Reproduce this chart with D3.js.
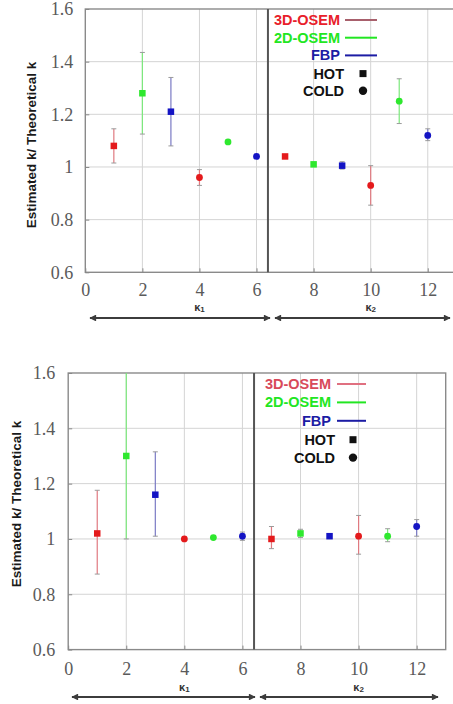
<!DOCTYPE html>
<html>
<head>
<meta charset="utf-8">
<script src="https://cdn.jsdelivr.net/npm/d3@7"></script>
<style>
  html, body { margin: 0; padding: 0; background: #fff; }
  svg { display: block; }
</style>
</head>
<body>
<svg id="chart" width="453" height="704" xmlns="http://www.w3.org/2000/svg"></svg>
<script>
// Positions along the k axis: 1-6 belong to k1, 7-12 to k2
const positions = [1, 2, 3, 4, 5, 6, 7, 8, 9, 10, 11, 12];
const methods = ["3D-OSEM", "2D-OSEM", "FBP", "3D-OSEM", "2D-OSEM", "FBP",
                 "3D-OSEM", "2D-OSEM", "FBP", "3D-OSEM", "2D-OSEM", "FBP"];
const regions = ["HOT", "HOT", "HOT", "COLD", "COLD", "COLD",
                 "HOT", "HOT", "HOT", "COLD", "COLD", "COLD"];

// Upper panel: estimated / theoretical k with error range
const upperValues = [1.08, 1.28, 1.21, 0.96, 1.095, 1.04, 1.04, 1.01, 1.005, 0.93, 1.25, 1.12];
const upperLow    = [1.015, 1.125, 1.08, 0.93, 1.09, 1.036, 1.037, 1.003, 0.992, 0.855, 1.165, 1.10];
const upperHigh   = [1.145, 1.435, 1.34, 0.99, 1.10, 1.044, 1.043, 1.017, 1.02, 1.005, 1.335, 1.145];

// Lower panel
const lowerValues = [1.02, 1.30, 1.16, 1.0, 1.005, 1.01, 1.0, 1.02, 1.01, 1.01, 1.01, 1.045];
const lowerLow    = [0.873, 1.0, 1.01, 0.994, 1.0, 0.995, 0.965, 1.005, 1.0, 0.945, 0.99, 1.01];
const lowerHigh   = [1.176, 1.6, 1.315, 1.006, 1.01, 1.025, 1.045, 1.035, 1.02, 1.085, 1.037, 1.07];

const yTicks = [0.6, 0.8, 1.0, 1.2, 1.4, 1.6];
const yTickLabels = ["0.6", "0.8", "1", "1.2", "1.4", "1.6"];
const xTicks = [0, 2, 4, 6, 8, 10, 12];
const xTickLabels = ["0", "2", "4", "6", "8", "10", "12"];
const kSplit = 6.4;

const legendItems = ["3D-OSEM", "2D-OSEM", "FBP"];
const markerColor = { "3D-OSEM": "#e41a1c", "2D-OSEM": "#2ee82e", "FBP": "#1414c4" };
const barColor    = { "3D-OSEM": "#e07a80", "2D-OSEM": "#7ce87c", "FBP": "#7a7ac4" };

const SERIF = "'Liberation Serif', 'Times New Roman', Times, serif";
const SANS = "'Liberation Sans', Arial, Helvetica, sans-serif";

const svg = d3.select("#chart");

// Arrowhead marker shared by the k1 / k2 range arrows
const defs = svg.append("defs");
defs.append("marker")
  .attr("id", "arrowHead")
  .attr("viewBox", "0 0 10 10")
  .attr("refX", 9).attr("refY", 5)
  .attr("markerWidth", 4.2).attr("markerHeight", 3.4)
  .attr("markerUnits", "strokeWidth")
  .attr("orient", "auto-start-reverse")
  .append("path").attr("d", "M0,0 L10,5 L0,10 z").attr("fill", "#3c3c3c");

function drawPanel(p) {
  const x = d3.scaleLinear().domain([0, 13]).range([p.left, p.right]);
  const y = d3.scaleLinear().domain([0.6, 1.6]).range([p.bottom, p.top]);
  const g = svg.append("g");

  // grid
  g.append("g").selectAll("line.h").data(yTicks.slice(1, -1)).join("line")
    .attr("x1", p.left).attr("x2", p.right)
    .attr("y1", d => y(d)).attr("y2", d => y(d))
    .attr("stroke", "#d4d4d4").attr("stroke-width", 1);
  g.append("g").selectAll("line.v").data(xTicks.slice(1)).join("line")
    .attr("x1", d => x(d)).attr("x2", d => x(d))
    .attr("y1", p.top).attr("y2", p.bottom)
    .attr("stroke", "#d4d4d4").attr("stroke-width", 1);

  // frame
  g.append("rect")
    .attr("x", p.left).attr("y", p.top)
    .attr("width", p.right - p.left).attr("height", p.bottom - p.top)
    .attr("fill", "none").attr("stroke", "#8a8a8a").attr("stroke-width", 1.4);

  // axes with serif numbers
  const yAxis = d3.axisLeft(y).tickValues(yTicks)
    .tickFormat((d, i) => yTickLabels[i]).tickSize(-4).tickPadding(p.yPad);
  const ya = g.append("g").attr("transform", `translate(${p.left},0)`).call(yAxis);
  const xAxis = d3.axisBottom(x).tickValues(xTicks)
    .tickFormat((d, i) => xTickLabels[i]).tickSize(-4).tickPadding(p.xPad);
  const xa = g.append("g").attr("transform", `translate(0,${p.bottom})`).call(xAxis);
  [ya, xa].forEach(a => {
    a.attr("font-family", SERIF).attr("font-size", 18);
    a.select(".domain").remove();
    a.selectAll(".tick line").attr("stroke", "#888");
    a.selectAll(".tick text")
      .style("font-family", SERIF).style("font-size", "18px").style("fill", "#5a5a5a");
  });

  // divider between k1 and k2
  g.append("line")
    .attr("x1", x(kSplit)).attr("x2", x(kSplit))
    .attr("y1", p.top).attr("y2", p.bottom)
    .attr("stroke", "#555").attr("stroke-width", 2);

  // y title
  g.append("text")
    .attr("transform", `translate(${p.titleX},${p.titleY}) rotate(-90)`)
    .attr("text-anchor", "middle").attr("dominant-baseline", "central")
    .style("font-family", SANS).style("font-weight", "bold")
    .style("font-size", "13.5px").style("fill", "#1a1a1a")
    .text("Estimated k/ Theoretical k");

  // data
  const rows = positions.map((pos, i) => ({
    pos, method: methods[i], region: regions[i],
    v: p.values[i], lo: p.low[i], hi: p.high[i]
  }));
  const clip = v => Math.min(1.6, Math.max(0.6, v));
  const bars = g.append("g");
  bars.selectAll("line.err").data(rows).join("line")
    .attr("x1", d => x(d.pos)).attr("x2", d => x(d.pos))
    .attr("y1", d => y(clip(d.lo))).attr("y2", d => y(clip(d.hi)))
    .attr("stroke", d => barColor[d.method]).attr("stroke-width", 1.2);
  ["lo", "hi"].forEach(k => {
    bars.selectAll("line.cap" + k).data(rows.filter(d => d[k] < 1.6 && Math.abs(d[k] - d.v) > 0.012)).join("line")
      .attr("x1", d => x(d.pos) - 2.5).attr("x2", d => x(d.pos) + 2.5)
      .attr("y1", d => y(d[k])).attr("y2", d => y(d[k]))
      .attr("stroke", "#9a9a9a").attr("stroke-width", 1);
  });
  const ms = 6.5;
  bars.selectAll("rect.hot").data(rows.filter(d => d.region === "HOT")).join("rect")
    .attr("x", d => x(d.pos) - ms / 2).attr("y", d => y(d.v) - ms / 2)
    .attr("width", ms).attr("height", ms)
    .attr("fill", d => markerColor[d.method]);
  bars.selectAll("circle.cold").data(rows.filter(d => d.region === "COLD")).join("circle")
    .attr("cx", d => x(d.pos)).attr("cy", d => y(d.v)).attr("r", 3.4)
    .attr("fill", d => markerColor[d.method]);

  // legend
  const lg = g.append("g");
  const legText = sel => sel.attr("text-anchor", "end").attr("dominant-baseline", "central")
    .style("font-family", SANS).style("font-weight", "bold").style("font-size", "14.5px");
  legendItems.forEach((m, i) => {
    const cy = p.legY + i * p.legStep;
    lg.append("text").attr("x", p.legTextX).attr("y", cy)
      .call(legText).style("fill", p.legText[m]).text(m);
    lg.append("line").attr("x1", p.legLineX0).attr("x2", p.legLineX1)
      .attr("y1", cy).attr("y2", cy)
      .attr("stroke", p.legLine[m]).attr("stroke-width", 2);
  });
  const hy = p.legY + 3 * p.legStep + 0.5, cyc = p.legY + 4 * p.legStep;
  lg.append("text").attr("x", p.legTextX + 4).attr("y", hy)
    .call(legText).style("fill", "#111").text("HOT");
  lg.append("rect").attr("x", p.legSymX - 3.5).attr("y", hy - 3.5)
    .attr("width", 7).attr("height", 7).attr("fill", "#111");
  lg.append("text").attr("x", p.legTextX + 4).attr("y", cyc)
    .call(legText).style("fill", "#111").text("COLD");
  lg.append("circle").attr("cx", p.legSymX).attr("cy", cyc).attr("r", 4.2).attr("fill", "#111");

  // k1 / k2 range arrows
  const ag = g.append("g");
  p.arrows.forEach(a => {
    ag.append("line")
      .attr("x1", a[0]).attr("x2", a[1]).attr("y1", p.arrowY).attr("y2", p.arrowY)
      .attr("stroke", "#3c3c3c").attr("stroke-width", 2)
      .attr("marker-start", "url(#arrowHead)").attr("marker-end", "url(#arrowHead)");
  });
  [["1", x(4)], ["2", x(10)]].forEach(([sub, cx]) => {
    const t = ag.append("text").attr("x", cx).attr("y", p.kLabelY)
      .attr("text-anchor", "middle").attr("dominant-baseline", "central")
      .style("font-family", SANS).style("font-weight", "bold")
      .style("font-size", "11px").style("fill", "#333");
    t.append("tspan").text("κ");
    t.append("tspan").style("font-size", "8px").attr("dy", 2).text(sub);
  });
}

drawPanel({
  left: 85.3, right: 456.3, top: 9, bottom: 272.3,
  yPad: 12, xPad: 11,
  values: upperValues, low: upperLow, high: upperHigh,
  titleX: 31, titleY: 145,
  legY: 20, legStep: 17.7, legTextX: 340, legLineX0: 345, legLineX1: 377, legSymX: 363,
  legText: { "3D-OSEM": "#e8202a", "2D-OSEM": "#22e622", "FBP": "#1c1ca4" },
  legLine: { "3D-OSEM": "#a8606c", "2D-OSEM": "#22e622", "FBP": "#1c1ca4" },
  arrows: [[90, 270], [275, 450]], arrowY: 318, kLabelY: 307
});

drawPanel({
  left: 68.2, right: 445.7, top: 373, bottom: 649.6,
  yPad: 13, xPad: 13,
  values: lowerValues, low: lowerLow, high: lowerHigh,
  titleX: 16, titleY: 504,
  legY: 384, legStep: 18.4, legTextX: 331, legLineX0: 337, legLineX1: 366, legSymX: 353,
  legText: { "3D-OSEM": "#d84a5a", "2D-OSEM": "#22e622", "FBP": "#1c1ca4" },
  legLine: { "3D-OSEM": "#e07080", "2D-OSEM": "#22e622", "FBP": "#1c1ca4" },
  arrows: [[72, 255], [260, 438]], arrowY: 697, kLabelY: 687
});
</script>
</body>
</html>
